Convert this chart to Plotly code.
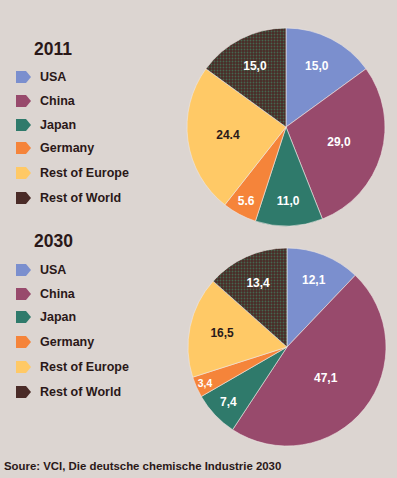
import plotly.graph_objects as go

W, H = 397, 478

regions = ["USA", "China", "Japan", "Germany", "Rest of Europe", "Rest of World"]
colors = ["#7b8fce", "#984a6c", "#2f7a6b", "#f5843a", "#ffc966", "#4a2b27"]
text_colors = ["white", "white", "white", "white", "#2a1a1a", "white"]

years = ["2011", "2030"]
values_2011 = [15.0, 29.0, 11.0, 5.6, 24.4, 15.0]
labels_2011 = ["15,0", "29,0", "11,0", "5.6", "24.4", "15,0"]
values_2030 = [12.1, 47.1, 7.4, 3.4, 16.5, 13.4]
labels_2030 = ["12,1", "47,1", "7,4", "3,4", "16,5", "13,4"]

source = "Soure: VCI, Die deutsche chemische Industrie 2030"

BG = "#dcd5d1"
DARK = "#2a1818"
FONT = "Liberation Sans"


def px(x):
    return x / W


def py(y):
    return 1 - y / H


fig = go.Figure()

pies = [
    (values_2011, labels_2011, (187, 385), (28, 226)),
    (values_2030, labels_2030, (188, 386), (248, 446)),
]
for vals, labs, (x0, x1), (y0, y1) in pies:
    fig.add_trace(go.Pie(
        labels=regions,
        values=vals,
        text=labs,
        texttemplate="<b>%{text}</b>",
        textposition="inside",
        insidetextorientation="horizontal",
        sort=False,
        direction="clockwise",
        rotation=0,
        marker=dict(
            colors=colors,
            line=dict(color="#eee8e4", width=0.6),
            pattern=dict(
                shape=["", "", "", "", "", "."],
                fgcolor=colors[:5] + ["#456650"],
                bgcolor=colors,
                fillmode="replace",
                size=3,
                solidity=0.3,
            ),
        ),
        insidetextfont=dict(family=FONT, size=12, color=text_colors),
        domain=dict(x=[px(x0), px(x1)], y=[py(y1), py(y0)]),
        showlegend=False,
        hoverinfo="label+value",
    ))

shapes = []
annotations = []

legend_blocks = [
    ("2011", 49, [77, 101, 125, 148, 173, 198]),
    ("2030", 241, [270, 294, 317, 342, 367, 392]),
]
for title, ty, ys in legend_blocks:
    annotations.append(dict(
        x=px(32), y=py(ty), xref="paper", yref="paper", xanchor="left", yanchor="middle",
        text="<b>%s</b>" % title, showarrow=False,
        font=dict(family=FONT, size=17.5, color=DARK),
    ))
    for name, col, yc in zip(regions, colors, ys):
        x0, xm, x1 = 16, 26, 31
        ya, yb = yc - 6, yc + 6
        path = "M %f %f L %f %f L %f %f L %f %f L %f %f Z" % (
            px(x0), py(ya), px(xm), py(ya), px(x1), py(yc), px(xm), py(yb), px(x0), py(yb))
        shapes.append(dict(type="path", xref="paper", yref="paper", path=path,
                           fillcolor=col, line=dict(width=0)))
        annotations.append(dict(
            x=px(38), y=py(yc), xref="paper", yref="paper", xanchor="left", yanchor="middle",
            text="<b>%s</b>" % name, showarrow=False,
            font=dict(family=FONT, size=12.5, color=DARK),
        ))

annotations.append(dict(
    x=px(2), y=py(466), xref="paper", yref="paper", xanchor="left", yanchor="middle",
    text="<b>%s</b>" % source, showarrow=False,
    font=dict(family=FONT, size=11.4, color=DARK),
))

fig.update_layout(
    width=W, height=H,
    margin=dict(l=0, r=0, t=0, b=0),
    paper_bgcolor=BG, plot_bgcolor=BG,
    shapes=shapes, annotations=annotations,
)

fig.write_html(
    "out.html",
    config={"displayModeBar": False},
    post_script="document.body.style.margin='0';document.body.style.background='%s';" % BG,
)
